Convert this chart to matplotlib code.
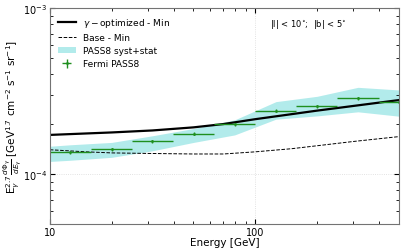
import numpy as np
import matplotlib
matplotlib.use('Agg')
import matplotlib.pyplot as plt
from matplotlib.ticker import FuncFormatter, NullFormatter

# Fermi PASS8 points (bin centres, bin edges, flux)
fermi_E = [12.6, 20.0, 31.6, 50.1, 79.4, 126.0, 200.0, 316.0, 501.0]
fermi_lo = [10.0, 15.8, 25.1, 39.8, 63.1, 100.0, 158.0, 251.0, 398.0]
fermi_hi = [15.8, 25.1, 39.8, 63.1, 100.0, 158.0, 251.0, 398.0, 631.0]
fermi_flux = [1.35e-4, 1.41e-4, 1.57e-4, 1.75e-4, 2.00e-4, 2.40e-4, 2.56e-4, 2.86e-4, 2.73e-4]
fermi_yerr = [3e-6, 3e-6, 3e-6, 4e-6, 4e-6, 5e-6, 5e-6, 6e-6, 6e-6]

# syst+stat band
band_E = [10.0, 12.6, 20.0, 31.6, 50.1, 79.4, 126.0, 200.0, 316.0, 501.0]
band_up = [1.47e-4, 1.50e-4, 1.55e-4, 1.70e-4, 1.88e-4, 2.12e-4, 2.73e-4, 2.94e-4, 3.33e-4, 3.21e-4]
band_low = [1.19e-4, 1.21e-4, 1.26e-4, 1.38e-4, 1.55e-4, 1.72e-4, 2.14e-4, 2.24e-4, 2.37e-4, 2.23e-4]

# model curves
opt_E = [10, 20, 31.6, 50, 70, 100, 200, 500]
opt_flux = [1.72e-4, 1.78e-4, 1.83e-4, 1.91e-4, 2.00e-4, 2.14e-4, 2.41e-4, 2.79e-4]
base_E = [10, 15, 20, 30, 50, 70, 100, 150, 200, 300, 500]
base_flux = [1.40e-4, 1.36e-4, 1.34e-4, 1.33e-4, 1.32e-4, 1.32e-4, 1.36e-4, 1.42e-4, 1.48e-4, 1.57e-4, 1.68e-4]

fig = plt.figure(figsize=(4.05, 2.53), dpi=100)
ax = fig.add_axes([0.123, 0.111, 0.862, 0.853])

ax.plot(opt_E, opt_flux, color='k', lw=1.6, label=r'$\gamma-$optimized - Min')
ax.plot(base_E, base_flux, color='k', lw=0.7, ls='--', label='Base - Min')
ax.fill_between(band_E, band_low, band_up, color='c', alpha=0.3, lw=0, label='PASS8 syst+stat')
xerr = [np.array(fermi_E) - np.array(fermi_lo), np.array(fermi_hi) - np.array(fermi_E)]
ax.errorbar(fermi_E, fermi_flux, xerr=xerr, yerr=fermi_yerr, fmt='.', color='#1f8f1f',
            ms=2, elinewidth=1, label='Fermi PASS8')

ax.set_xscale('log')
ax.set_yscale('log')
ax.set_xlim(10, 500)
ax.set_ylim(5e-5, 1e-3)
ax.xaxis.set_major_formatter(FuncFormatter(lambda v, p: '%d' % v))
ax.xaxis.set_minor_formatter(NullFormatter())
ax.grid(True, which='major', color='0.85', ls=':', lw=0.6)
ax.tick_params(which='both', direction='in', top=True, right=True, labelsize=7, pad=2)
for s in ax.spines.values():
    s.set_color('0.45')

ax.set_xlabel('Energy [GeV]', fontsize=7.5, labelpad=0)
ax.set_ylabel(r'E$_\gamma^{2.7}\,\frac{d\Phi_\gamma}{dE_\gamma}$ [GeV$^{1.7}$ cm$^{-2}$ s$^{-1}$ sr$^{-1}$]',
              fontsize=7.5)
ax.yaxis.set_label_coords(-0.075, 0.5)
ax.text(0.63, 0.93, r'|l| < 10$^{\circ}$;  |b| < 5$^{\circ}$', transform=ax.transAxes,
        fontsize=6, va='center')
ax.legend(loc='upper left', frameon=False, fontsize=6.5, handlelength=2.0, labelspacing=0.45)

fig.savefig('out.png', dpi=100)
